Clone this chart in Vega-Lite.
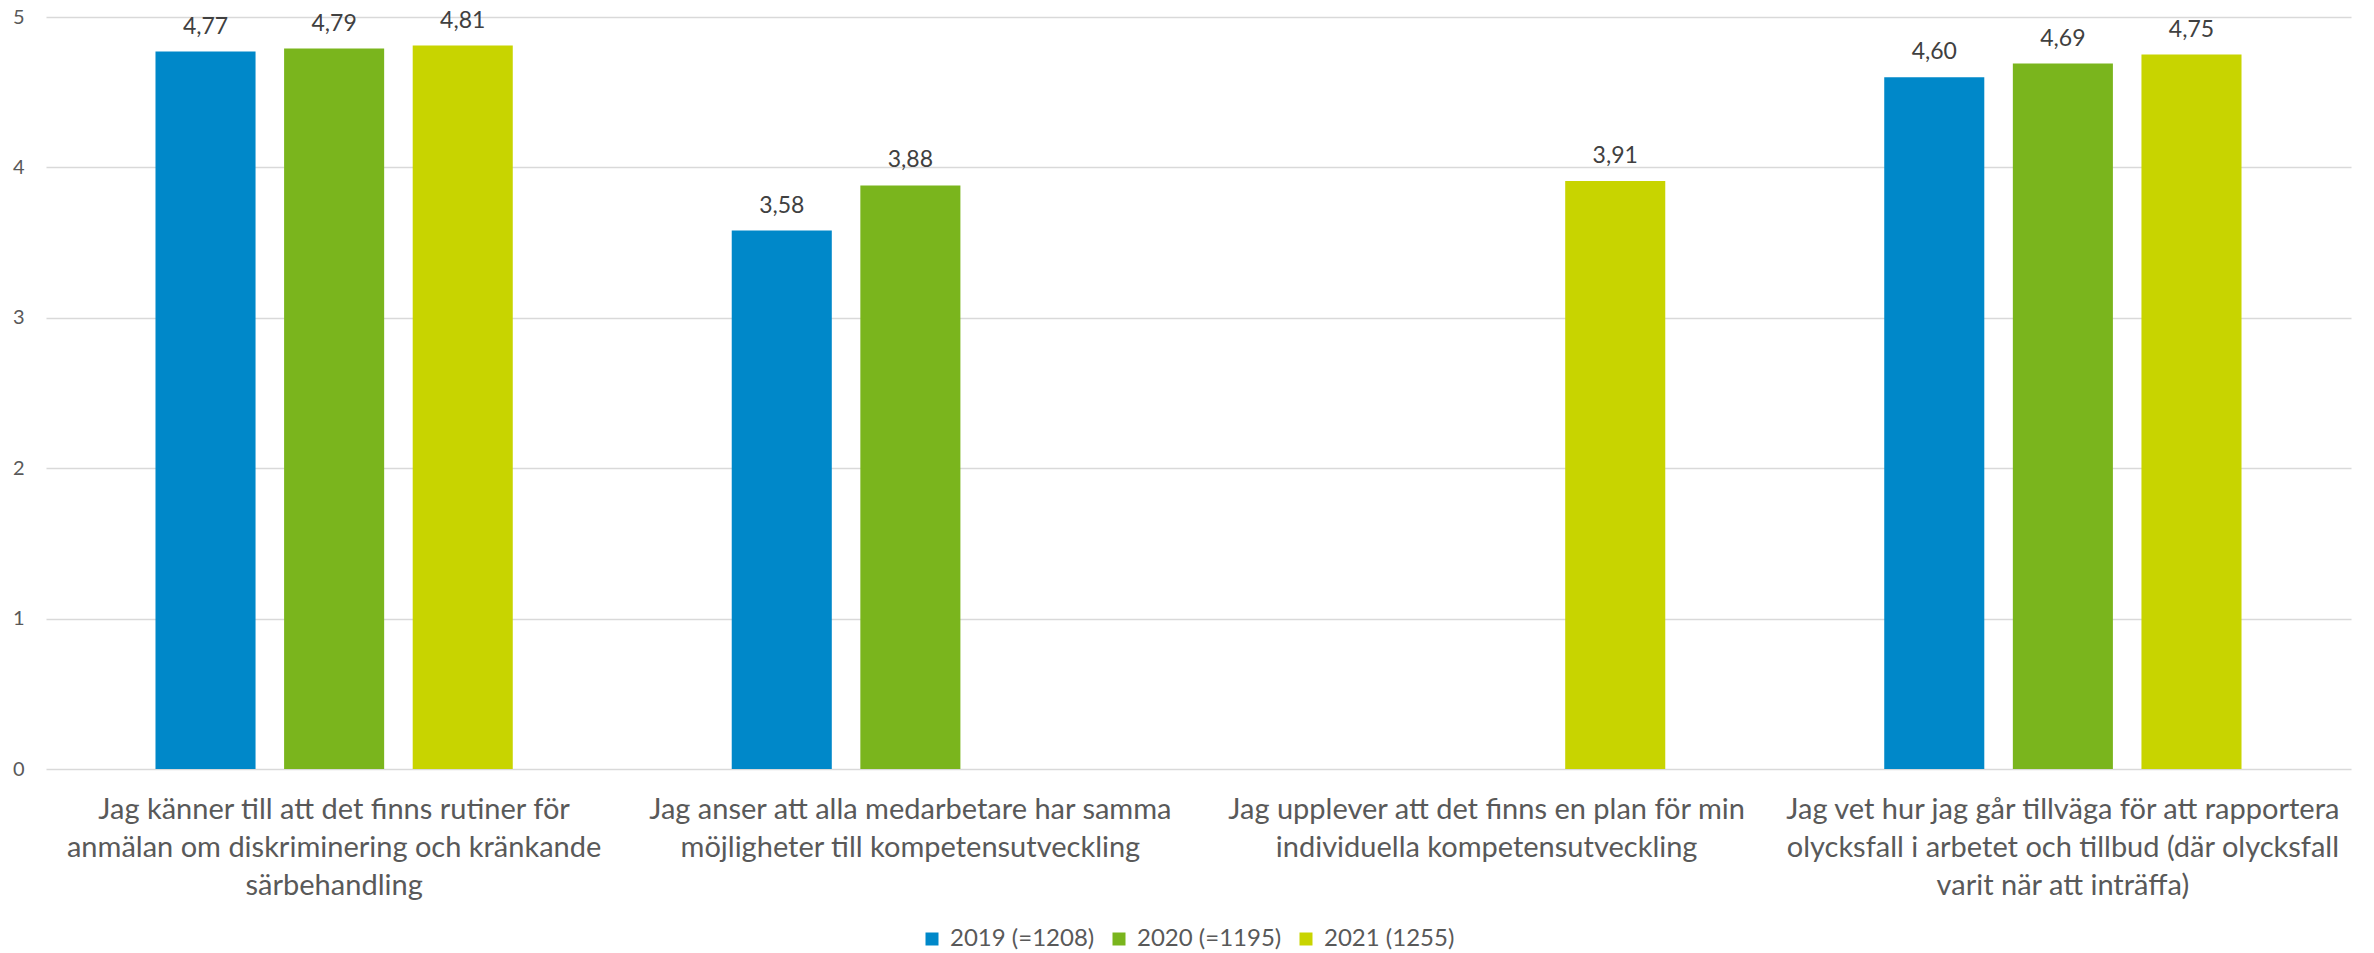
{
  "$schema": "https://vega.github.io/schema/vega-lite/v6.json",
  "width": 2305,
  "height": 752,
  "autosize": "none",
  "padding": {"left": 46, "top": 17, "right": 23, "bottom": 184},
  "background": "white",
  "config": {
    "locale": {"number": {"decimal": ",", "thousands": " ", "grouping": [3], "currency": ["", " kr"]}},
    "view": {"stroke": null},
    "font": "Lato"
  },
  "data": {
    "values": [
      {"fråga": "Jag känner till att det finns rutiner för\nanmälan om diskriminering och kränkande\nsärbehandling", "år": "2019 (=1208)", "värde": 4.77},
      {"fråga": "Jag känner till att det finns rutiner för\nanmälan om diskriminering och kränkande\nsärbehandling", "år": "2020 (=1195)", "värde": 4.79},
      {"fråga": "Jag känner till att det finns rutiner för\nanmälan om diskriminering och kränkande\nsärbehandling", "år": "2021 (1255)", "värde": 4.81},
      {"fråga": "Jag anser att alla medarbetare har samma\nmöjligheter till kompetensutveckling", "år": "2019 (=1208)", "värde": 3.58},
      {"fråga": "Jag anser att alla medarbetare har samma\nmöjligheter till kompetensutveckling", "år": "2020 (=1195)", "värde": 3.88},
      {"fråga": "Jag upplever att det finns en plan för min\nindividuella kompetensutveckling", "år": "2021 (1255)", "värde": 3.91},
      {"fråga": "Jag vet hur jag går tillväga för att rapportera\nolycksfall i arbetet och tillbud (där olycksfall\nvarit när att inträffa)", "år": "2019 (=1208)", "värde": 4.60},
      {"fråga": "Jag vet hur jag går tillväga för att rapportera\nolycksfall i arbetet och tillbud (där olycksfall\nvarit när att inträffa)", "år": "2020 (=1195)", "värde": 4.69},
      {"fråga": "Jag vet hur jag går tillväga för att rapportera\nolycksfall i arbetet och tillbud (där olycksfall\nvarit när att inträffa)", "år": "2021 (1255)", "värde": 4.75}
    ]
  },
  "encoding": {
    "x": {
      "field": "fråga",
      "type": "nominal",
      "sort": null,
      "scale": {"paddingInner": 0.38, "paddingOuter": 0.19},
      "axis": {
        "title": null,
        "labelAngle": 0,
        "labelExpr": "split(datum.label, '\\n')",
        "labelFont": "Lato",
        "labelFontSize": 29,
        "labelLineHeight": 38,
        "labelColor": "#595959",
        "labelPadding": 26,
        "labelLimit": 0,
        "ticks": false,
        "domain": false
      }
    },
    "xOffset": {
      "field": "år",
      "type": "nominal",
      "sort": ["2019 (=1208)", "2020 (=1195)", "2021 (1255)"],
      "scale": {"paddingInner": 0.222, "paddingOuter": 0}
    },
    "y": {
      "field": "värde",
      "type": "quantitative",
      "scale": {"domain": [0, 5], "nice": false},
      "axis": {
        "title": null,
        "values": [0, 1, 2, 3, 4, 5],
        "grid": true,
        "gridColor": "#d9d9d9",
        "gridWidth": 1.5,
        "domain": false,
        "ticks": false,
        "labelFont": "Lato",
        "labelFontSize": 20,
        "labelColor": "#595959",
        "labelPadding": 22,
        "format": "d"
      }
    }
  },
  "layer": [
    {
      "mark": {"type": "bar"},
      "encoding": {
        "color": {
          "field": "år",
          "type": "nominal",
          "sort": ["2019 (=1208)", "2020 (=1195)", "2021 (1255)"],
          "scale": {"domain": ["2019 (=1208)", "2020 (=1195)", "2021 (1255)"], "range": ["#0088C9", "#7AB51D", "#C8D400"]},
          "legend": {
            "title": null,
            "orient": "none",
            "direction": "horizontal",
            "legendX": 874,
            "legendY": 910,
            "symbolType": "square",
            "symbolSize": 169,
            "symbolStrokeWidth": 0,
            "labelFont": "Lato",
            "labelFontSize": 24,
            "labelColor": "#595959",
            "labelOffset": 6,
            "columnPadding": 12,
            "labelLimit": 0
          }
        }
      }
    },
    {
      "mark": {"type": "text", "baseline": "bottom", "dy": -13, "font": "Lato", "fontSize": 23, "color": "#404040"},
      "encoding": {
        "text": {"field": "värde", "type": "quantitative", "format": ".2f"}
      }
    }
  ]
}
